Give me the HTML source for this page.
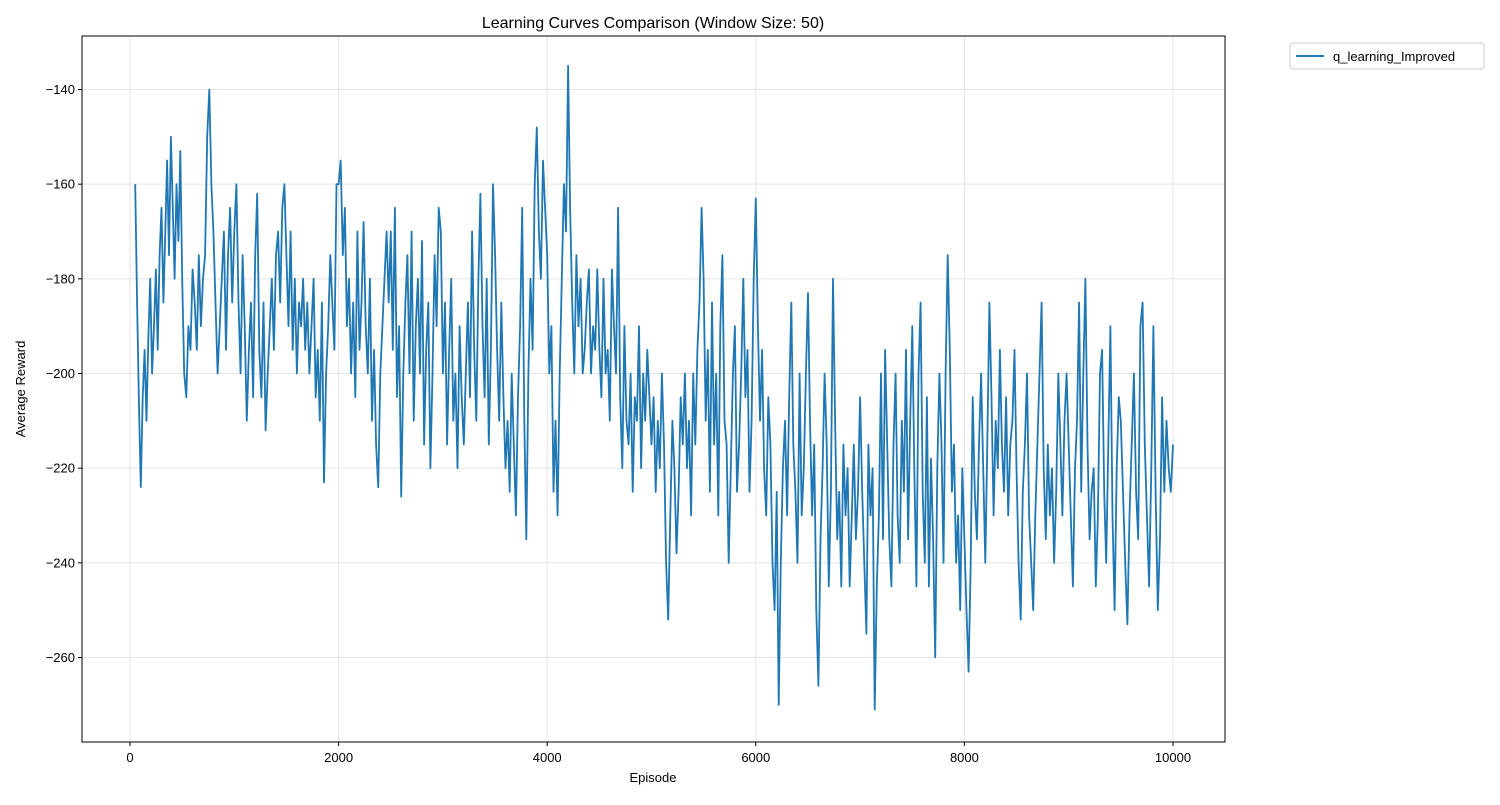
<!DOCTYPE html>
<html><head><meta charset="utf-8"><style>
body{margin:0;background:#fff;font-family:"Liberation Sans","DejaVu Sans",sans-serif;}
svg text{font-family:"Liberation Sans","DejaVu Sans",sans-serif;}
</style></head><body>
<svg id="chart" width="1500" height="800">
<rect width="1500" height="800" fill="#fff"/>
<text x="653" y="28" text-anchor="middle" font-size="16">Learning Curves Comparison (Window Size: 50)</text>
<g id="grid"></g><g id="axes"></g>
<clipPath id="clip"><rect x="82" y="36" width="1143" height="706"/></clipPath>
<path id="line" fill="none" stroke="#1f77b4" stroke-width="1.8" stroke-linejoin="round" clip-path="url(#clip)"/>
<rect x="82" y="36" width="1143" height="706" fill="none" stroke="#000" stroke-width="1"/>
<text x="653" y="782" text-anchor="middle" font-size="13">Episode</text>
<text x="25" y="389" text-anchor="middle" font-size="13" transform="rotate(-90 25 389)">Average Reward</text>
<g>
<rect x="1290" y="43" width="194" height="26" rx="3" fill="#fff" stroke="#ccc"/>
<line x1="1296" y1="56" x2="1324" y2="56" stroke="#1f77b4" stroke-width="2"/>
<text x="1333" y="61" font-size="13">q_learning_Improved</text>
</g>
</svg>
<script>
const xTicks=[0,2000,4000,6000,8000,10000];
const yTicks=[-140,-160,-180,-200,-220,-240,-260];
const segmentStarts=[50,500,1000,1500,2000,2500,3000,3500,4000,4500,5000,5500,6000,6500,7000,7500,8000,8500,9000,9500];
const segmentEnd=10000;
const seg0=[-160,-185,-207,-224,-205,-195,-210,-192,-180,-200,-190,-178,-195,-175,-165,-185,-170,-155,-175,-150,-165,-180,-160,-172,-153];
const seg1=[-180,-200,-205,-190,-195,-178,-185,-195,-175,-190,-180,-175,-150,-140,-160,-170,-185,-200,-190,-180,-170,-195,-175,-165,-185];
const seg2=[-170,-160,-185,-200,-175,-190,-210,-195,-185,-205,-175,-162,-195,-205,-185,-212,-200,-190,-180,-195,-175,-170,-185,-165,-160];
const seg3=[-175,-190,-170,-195,-180,-200,-185,-190,-180,-195,-185,-200,-190,-180,-205,-195,-210,-185,-223,-200,-190,-175,-185,-195,-160];
const seg4=[-160,-155,-175,-165,-190,-180,-200,-185,-205,-170,-195,-185,-168,-190,-200,-180,-210,-195,-215,-224,-200,-190,-180,-170,-185];
const seg5=[-170,-195,-165,-205,-190,-226,-200,-185,-175,-200,-170,-210,-190,-180,-200,-172,-215,-195,-185,-220,-200,-175,-190,-165,-170];
const seg6=[-200,-185,-215,-195,-180,-210,-200,-220,-190,-205,-215,-200,-185,-205,-170,-195,-210,-180,-162,-190,-205,-180,-215,-195,-160];
const seg7=[-175,-195,-210,-185,-205,-220,-210,-225,-200,-215,-230,-205,-190,-165,-210,-235,-200,-180,-195,-160,-148,-170,-180,-155,-165];
const seg8=[-175,-200,-190,-225,-210,-230,-200,-180,-160,-170,-135,-165,-185,-200,-175,-190,-180,-200,-195,-185,-178,-200,-190,-195,-178];
const seg9=[-195,-205,-180,-200,-195,-210,-178,-190,-200,-165,-205,-220,-190,-210,-215,-200,-225,-205,-210,-190,-220,-200,-210,-195,-205];
const seg10=[-215,-205,-225,-210,-220,-200,-215,-240,-252,-230,-210,-220,-238,-225,-205,-215,-200,-220,-210,-230,-200,-215,-195,-185,-165];
const seg11=[-180,-210,-195,-225,-185,-215,-200,-230,-190,-175,-210,-215,-240,-220,-200,-190,-225,-215,-200,-180,-205,-195,-225,-210,-180];
const seg12=[-163,-190,-210,-195,-220,-230,-205,-215,-240,-250,-225,-270,-240,-220,-210,-230,-205,-185,-215,-225,-240,-200,-230,-220,-200];
const seg13=[-183,-210,-230,-215,-250,-266,-235,-220,-200,-215,-245,-225,-180,-210,-235,-225,-245,-215,-230,-220,-245,-230,-215,-235,-225];
const seg14=[-205,-225,-240,-255,-215,-230,-220,-271,-245,-230,-200,-235,-195,-215,-235,-245,-215,-200,-230,-240,-210,-225,-195,-235,-210];
const seg15=[-190,-220,-245,-200,-185,-225,-240,-205,-245,-218,-235,-260,-220,-200,-215,-240,-200,-175,-195,-225,-215,-240,-230,-250,-220];
const seg16=[-235,-250,-263,-240,-205,-225,-235,-215,-200,-220,-240,-215,-185,-205,-230,-210,-220,-195,-215,-225,-205,-230,-215,-210,-195];
const seg17=[-220,-240,-252,-225,-215,-200,-230,-240,-250,-230,-215,-200,-185,-220,-235,-215,-230,-220,-240,-225,-200,-215,-230,-210,-200];
const seg18=[-215,-230,-245,-220,-210,-185,-225,-200,-180,-215,-235,-225,-220,-245,-230,-200,-195,-225,-240,-215,-190,-230,-250,-220,-205];
const seg19=[-210,-225,-240,-253,-230,-215,-200,-225,-235,-190,-185,-215,-230,-245,-220,-190,-225,-250,-235,-205,-225,-210,-220,-225,-215];
const segments=[seg0,seg1,seg2,seg3,seg4,seg5,seg6,seg7,seg8,seg9,seg10,seg11,seg12,seg13,seg14,seg15,seg16,seg17,seg18,seg19];
const NS="http://www.w3.org/2000/svg";
function xs(v){return 130+v*(1173-130)/10000;}
function ys(v){return 373.5-(v+200)*(657.5-89.5)/120;}
const grid=document.getElementById('grid'),axes=document.getElementById('axes');
function mk(tag,attrs,parent){const e=document.createElementNS(NS,tag);for(const k in attrs)e.setAttribute(k,attrs[k]);parent.appendChild(e);return e;}
xTicks.forEach(t=>{const x=xs(t);
 const g=mk('line',{x1:x,x2:x,y1:36,y2:742,stroke:'#e5e5e5','stroke-width':1},grid);
 
 
 const tk=mk('line',{x1:x,x2:x,y1:742,y2:746,stroke:'#000'},axes);
 
 
 const tx=mk('text',{x:x,y:762,'text-anchor':'middle','font-size':13},axes);tx.textContent=t;
 
 
});
yTicks.forEach(t=>{const y=ys(t);
 const g=mk('line',{x1:82,x2:1225,y1:y,y2:y,stroke:'#e5e5e5','stroke-width':1},grid);
 
 
 const tk=mk('line',{x1:78,x2:82,y1:y,y2:y,stroke:'#000'},axes);
 
 
 const tx=mk('text',{x:75,y:y+4.5,'text-anchor':'end','font-size':13},axes);tx.textContent='\u2212'+Math.abs(t);
 
 
});
let d='';let first=true;
segments.forEach((vals,s)=>{
 const a=segmentStarts[s], b=(s+1<segmentStarts.length)?segmentStarts[s+1]:segmentEnd;
 const n=vals.length;
 const last=(s===segments.length-1);
 vals.forEach((v,i)=>{
  const ep=a+i*(b-a)/(last?(n-1):n);
  d+=(first?'M':'L')+xs(ep).toFixed(1)+','+ys(v).toFixed(1);first=false;
 });
});
document.getElementById('line').setAttribute('d',d);
</script>
</body></html>
